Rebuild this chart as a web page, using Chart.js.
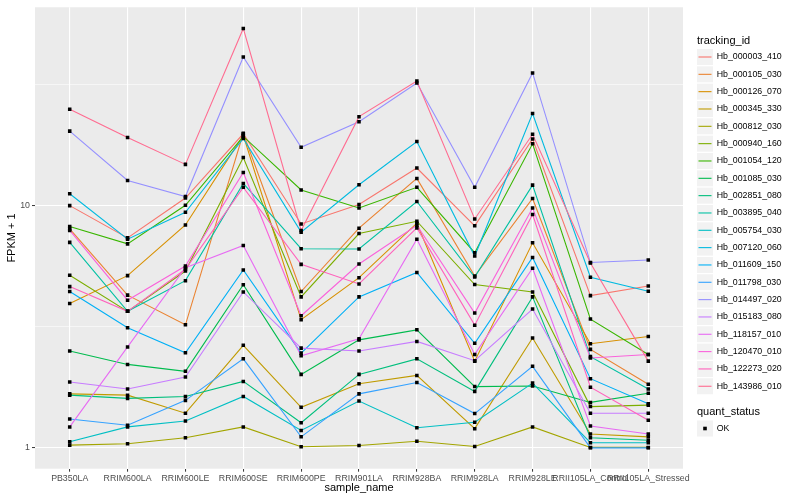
<!DOCTYPE html>
<html><head><meta charset="utf-8">
<script src="https://cdn.jsdelivr.net/npm/chart.js@4.4.0/dist/chart.umd.min.js"></script>
<style>html,body{margin:0;padding:0;background:#fff;}#wrap{width:800px;height:500px;}</style>
</head><body><div id="wrap"><canvas id="c" width="800" height="500" style="width:800px;height:500px"></canvas></div>
<script>
const categories = ['PB350LA','RRIM600LA','RRIM600LE','RRIM600SE','RRIM600PE','RRIM901LA','RRIM928BA','RRIM928LA','RRIM928LE','RRII105LA_Control','RRII105LA_Stressed'];
const trackingIds = ['Hb_000003_410','Hb_000105_030','Hb_000126_070','Hb_000345_330','Hb_000812_030','Hb_000940_160','Hb_001054_120','Hb_001085_030','Hb_002851_080','Hb_003895_040','Hb_005754_030','Hb_007120_060','Hb_011609_150','Hb_011798_030','Hb_014497_020','Hb_015183_080','Hb_118157_010','Hb_120470_010','Hb_122273_020','Hb_143986_010'];
const seriesColors = ['#F8766D','#EA8331','#D89000','#C09B00','#A3A500','#7CAE00','#39B600','#00BB4E','#00BF7D','#00C1A3','#00BFC4','#00BAE0','#00B0F6','#35A2FF','#9590FF','#C77CFF','#E76BF3','#FA62DB','#FF62BC','#FF6C91'];
const yTickValues = [1, 3.1623, 10, 31.623];
const yTickLabels = ['1', '', '10', ''];

const hb_000003_410 = [10.0, 7.36, 10.75, 19.8, 8.40, 10.1, 14.3, 8.25, 18.85, 4.25, 4.66];
const hb_000105_030 = [8.01, 4.27, 3.22, 19.9, 4.42, 8.07, 12.95, 5.12, 10.7, 2.55, 1.83];
const hb_000126_070 = [3.94, 5.14, 8.32, 19.5, 3.38, 5.04, 8.46, 2.28, 7.02, 2.69, 2.88];
const hb_000345_330 = [1.67, 1.65, 1.39, 2.65, 1.47, 1.84, 1.99, 1.20, 2.84, 1.14, 1.11];
const hb_000812_030 = [1.026, 1.04, 1.10, 1.22, 1.01, 1.023, 1.065, 1.013, 1.22, 1.004, 1.004];
const hb_000940_160 = [5.16, 3.66, 5.37, 15.8, 4.20, 7.67, 8.62, 4.72, 4.40, 1.48, 1.50];
const hb_001054_120 = [8.20, 6.95, 10.03, 19.3, 11.6, 9.78, 11.9, 6.39, 18.0, 3.40, 2.43];
const hb_001085_030 = [2.51, 2.21, 2.07, 4.71, 2.01, 2.79, 3.07, 1.79, 1.80, 1.54, 1.68];
const hb_002851_080 = [1.65, 1.60, 1.63, 1.88, 1.27, 2.01, 2.33, 1.71, 4.20, 1.10, 1.075];
const hb_003895_040 = [7.05, 3.66, 4.90, 12.35, 6.64, 6.62, 10.4, 5.07, 12.15, 2.38, 1.75];
const hb_005754_030 = [1.06, 1.22, 1.29, 1.63, 1.18, 1.56, 1.21, 1.275, 1.85, 1.05, 1.05];
const hb_007120_060 = [11.2, 7.27, 9.39, 18.95, 7.77, 12.2, 18.4, 6.19, 24.0, 5.06, 4.43];
const hb_011609_150 = [4.42, 3.13, 2.47, 5.42, 2.46, 4.20, 5.30, 2.70, 6.11, 1.93, 1.52];
const hb_011798_030 = [1.315, 1.24, 1.57, 2.33, 1.11, 1.67, 1.86, 1.385, 2.17, 1.00, 1.00];
const hb_014497_020 = [20.3, 12.7, 10.9, 41.1, 17.4, 22.2, 32.1, 11.9, 35.3, 5.82, 5.96];
const hb_015183_080 = [1.87, 1.75, 1.96, 4.40, 2.58, 2.51, 2.75, 2.29, 3.74, 1.39, 1.39];
const hb_118157_010 = [1.22, 2.61, 5.54, 6.85, 2.40, 2.82, 7.27, 2.43, 5.51, 1.23, 1.14];
const hb_120470_010 = [7.90, 4.07, 5.63, 13.7, 3.51, 5.74, 8.30, 3.60, 9.78, 2.35, 2.43];
const hb_122273_020 = [4.63, 3.66, 5.46, 11.9, 5.72, 4.75, 8.09, 3.21, 9.19, 1.78, 1.30];
const hb_143986_010 = [25.0, 19.1, 14.8, 53.9, 7.90, 23.3, 32.7, 8.81, 19.7, 5.79, 2.28];

const seriesValues = [hb_000003_410, hb_000105_030, hb_000126_070, hb_000345_330, hb_000812_030, hb_000940_160, hb_001054_120, hb_001085_030, hb_002851_080, hb_003895_040, hb_005754_030, hb_007120_060, hb_011609_150, hb_011798_030, hb_014497_020, hb_015183_080, hb_118157_010, hb_120470_010, hb_122273_020, hb_143986_010];

const FONT = '"Liberation Sans", Arial, Helvetica, sans-serif';

const lineSets = seriesValues.map((vals, s) => ({
  label: trackingIds[s],
  data: vals.map((v, i) => ({x: i, y: v})),
  borderColor: seriesColors[s],
  backgroundColor: seriesColors[s],
  borderWidth: 1.1,
  pointRadius: 0,
  tension: 0,
  order: 40 - s
}));
const pointSet = {
  label: 'OK',
  data: seriesValues.flatMap(vals => vals.map((v, i) => ({x: i, y: v}))),
  showLine: false,
  pointStyle: 'rect',
  pointRadius: 2.5,
  pointBackgroundColor: '#000',
  pointBorderWidth: 0,
  borderColor: '#000',
  order: 0
};

const panelBg = {
  id: 'panelBg',
  beforeDraw(chart) {
    const a = chart.chartArea, c = chart.ctx;
    c.save();
    c.fillStyle = '#fff';
    c.fillRect(0, 0, chart.width, chart.height);
    c.fillStyle = '#EBEBEB';
    c.fillRect(a.left, a.top, a.right - a.left, a.bottom - a.top);
    c.restore();
  }
};

const ggLegend = {
  id: 'ggLegend',
  afterDraw(chart) {
    const c = chart.ctx;
    c.save();
    const x0 = 697, step = 17.33, key = 16;
    c.textAlign = 'left';
    c.textBaseline = 'middle';
    c.fillStyle = '#000';
    c.font = '11px ' + FONT;
    c.fillText('tracking_id', x0, 40.5);
    c.font = '8.8px ' + FONT;
    trackingIds.forEach((id, i) => {
      const cy = 57 + i * step;
      c.fillStyle = '#F2F2F2';
      c.fillRect(x0, cy - key / 2, key, key);
      c.strokeStyle = seriesColors[i];
      c.lineWidth = 1.1;
      c.beginPath();
      c.moveTo(x0 + 1.5, cy);
      c.lineTo(x0 + key - 1.5, cy);
      c.stroke();
      c.fillStyle = '#000';
      c.fillText(id, x0 + 19.7, cy);
    });
    c.font = '11px ' + FONT;
    c.fillText('quant_status', x0, 412.3);
    const cy = 428.5;
    c.fillStyle = '#F2F2F2';
    c.fillRect(x0, cy - key / 2, key, key);
    c.fillStyle = '#000';
    c.fillRect(x0 + key / 2 - 1.8, cy - 1.8, 3.6, 3.6);
    c.font = '8.8px ' + FONT;
    c.fillText('OK', x0 + 19.7, cy);
    c.restore();
  }
};

new Chart(document.getElementById('c'), {
  type: 'line',
  data: { datasets: [...lineSets, pointSet] },
  options: {
    responsive: false,
    animation: false,
    events: [],
    layout: { padding: { left: 0, top: 5, right: 117, bottom: 0 } },
    plugins: { legend: { display: false }, tooltip: { enabled: false } },
    scales: {
      x: {
        type: 'linear',
        min: -0.6,
        max: 10.6,
        afterBuildTicks(scale) { scale.ticks = categories.map((_, i) => ({value: i})); },
        afterFit(scale) { scale.height = 31.3; },
        ticks: {
          autoSkip: false, maxRotation: 0, minRotation: 0,
          padding: 1.5,
          color: '#4D4D4D',
          font: { family: FONT, size: 8.8 },
          callback: (v) => categories[v]
        },
        grid: { color: '#FFFFFF', lineWidth: 1.1, tickLength: 3, tickColor: '#333333', tickWidth: 1 },
        border: { display: false },
        title: { display: true, text: 'sample_name', color: '#000', font: { family: FONT, size: 11 }, padding: { top: 0, bottom: 5 } }
      },
      y: {
        type: 'logarithmic',
        min: 0.82,
        max: 65.9,
        afterBuildTicks(scale) { scale.ticks = yTickValues.map(v => ({value: v})); },
        afterFit(scale) { scale.width = 35; },
        ticks: {
          padding: 2,
          color: '#4D4D4D',
          font: { family: FONT, size: 8.8 },
          callback: (v, i) => yTickLabels[i]
        },
        grid: {
          color: '#FFFFFF',
          lineWidth: (ctx) => (ctx.index % 2 === 0 ? 1.1 : 0.55),
          tickLength: 3,
          tickColor: (ctx) => (ctx.index % 2 === 0 ? '#333333' : 'rgba(0,0,0,0)'),
          tickWidth: 1
        },
        border: { display: false },
        title: { display: true, text: 'FPKM + 1', color: '#000', font: { family: FONT, size: 11 }, padding: { top: 5, bottom: 0 } }
      }
    }
  },
  plugins: [panelBg, ggLegend]
});
</script>
</body></html>
